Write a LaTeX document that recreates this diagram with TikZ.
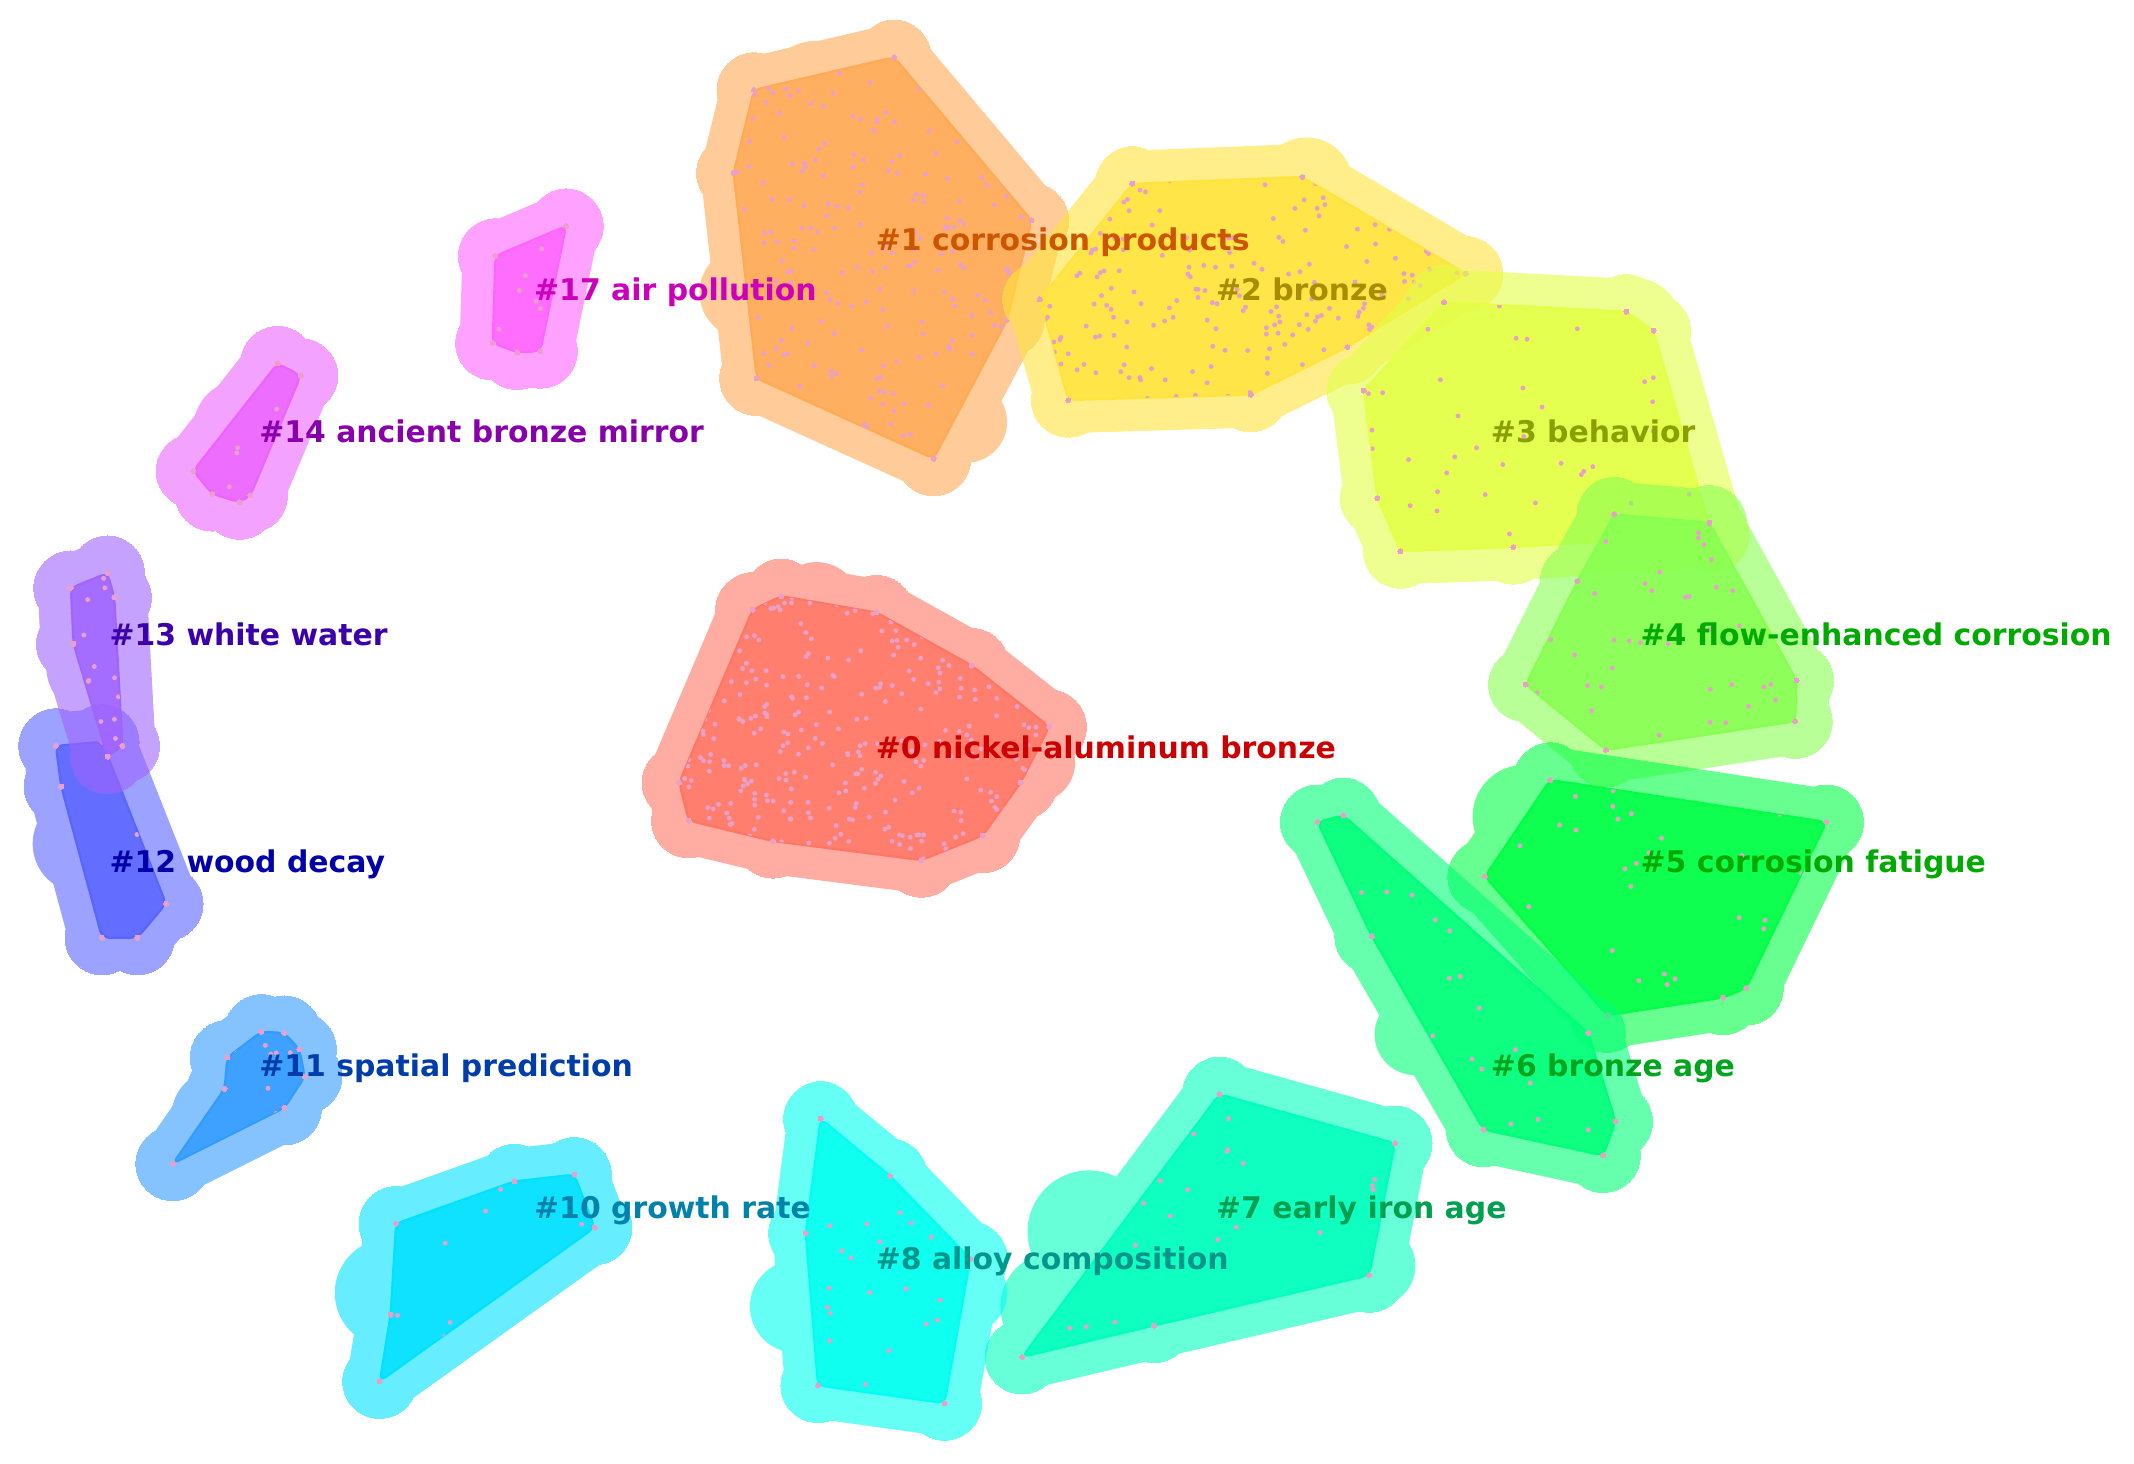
\documentclass[tikz,border=0pt]{standalone}
\usepackage{fontspec}
\setmainfont{DejaVu Sans}
\begin{document}
\begin{tikzpicture}[x=0.01361cm,y=-0.01361cm,
  lab/.style={anchor=base west, inner sep=0pt, font=\bfseries\fontsize{8.5}{10}\selectfont},
  dotc/.style={fill=dotcol}]
\definecolor{dotcol}{RGB}{232,160,200}
\definecolor{c0}{RGB}{255,118,100}\definecolor{t0}{RGB}{204,0,0}
\definecolor{c1}{RGB}{255,170,85}\definecolor{t1}{RGB}{204,85,0}
\definecolor{c2}{RGB}{255,228,60}\definecolor{t2}{RGB}{170,140,0}
\definecolor{c3}{RGB}{228,255,70}\definecolor{t3}{RGB}{136,160,0}
\definecolor{c4}{RGB}{135,255,80}\definecolor{t4}{RGB}{0,170,0}
\definecolor{c5}{RGB}{0,255,70}\definecolor{t5}{RGB}{0,170,0}
\definecolor{c6}{RGB}{0,255,120}\definecolor{t6}{RGB}{0,165,30}
\definecolor{c7}{RGB}{0,255,190}\definecolor{t7}{RGB}{0,160,80}
\definecolor{c8}{RGB}{0,255,240}\definecolor{t8}{RGB}{0,150,140}
\definecolor{c10}{RGB}{0,225,255}\definecolor{t10}{RGB}{0,130,170}
\definecolor{c11}{RGB}{50,155,255}\definecolor{t11}{RGB}{0,60,170}
\definecolor{c12}{RGB}{90,100,255}\definecolor{t12}{RGB}{0,0,170}
\definecolor{c13}{RGB}{160,100,255}\definecolor{t13}{RGB}{60,0,170}
\definecolor{c14}{RGB}{235,100,255}\definecolor{t14}{RGB}{136,0,170}
\definecolor{c17}{RGB}{255,100,255}\definecolor{t17}{RGB}{204,0,187}
% #1 colour, #2 hull vertices, #3 number of random dots, #4-#7 dot box, #8 extra halo blobs
\newcommand\hull[8]{%
  \begin{scope}[transparency group, opacity=0.6]
    \filldraw[fill=#1, draw=#1, line width=6.6mm, line join=round] plot coordinates {#2} -- cycle;
    \path plot[only marks, mark=*, mark size=3.7mm, mark options={draw=#1, fill=#1, line width=0pt}] coordinates {#2};
    \path[fill=#1] #8;
  \end{scope}
  \filldraw[fill=#1, fill opacity=0.85, draw=#1, line width=0.6pt, line join=round, rounded corners=2pt] plot coordinates {#2} -- cycle;
  \begin{scope}
    \clip plot coordinates {#2} -- cycle;
    \foreach \k in {1,...,#3}{%
      \pgfmathsetmacro\px{#4+rnd*(#5-#4)}%
      \pgfmathsetmacro\py{#6+rnd*(#7-#6)}%
      \fill[dotc] (\px,\py) circle (1.8);
    }
  \end{scope}
  \path plot[only marks, mark=*, mark size=0.25mm, mark options={draw=dotcol, fill=dotcol, line width=0pt}] coordinates {#2};
}
\pgfmathsetseed{4242}
\fill[white] (0,0) rectangle (1568,1075);
\useasboundingbox (0,0) rectangle (1568,1075);

\hull{c0}{(574,438) (644,450) (714,489) (771,534) (750,575) (722,614) (677,632) (568,618) (506,603) (499,575) (553,448)}{380}{499}{771}{438}{632}{(600,445) circle (32) (760,560) circle (30)}
\hull{c1}{(554,66) (657,42) (758,162) (740,235) (686,337) (556,278) (539,127)}{260}{539}{758}{42}{337}{(548,215) circle (34) (600,70) circle (40) (710,310) circle (30)}
\hull{c2}{(832,135) (957,130) (1077,201) (990,255) (919,290) (785,294) (764,220)}{240}{764}{1077}{130}{294}{(960,135) circle (34) (800,270) circle (34)}
\hull{c3}{(1061,222) (1195,229) (1215,243) (1258,393) (1112,402) (1029,405) (1012,366) (1002,287)}{45}{1002}{1258}{222}{405}{(1200,240) circle (36) (1020,320) circle (38)}
\hull{c4}{(1186,378) (1256,384) (1320,500) (1319,530) (1180,551) (1121,503) (1159,427)}{55}{1121}{1320}{378}{551}{(1150,480) circle (40)}
\hull{c5}{(1139,573) (1342,604) (1283,726) (1266,733) (1181,746) (1091,644)}{35}{1091}{1342}{573}{746}{(1120,600) circle (38)}
\hull{c6}{(968,604) (987,599) (1167,759) (1187,824) (1178,849) (1090,830) (1008,688)}{60}{968}{1187}{599}{849}{(1040,760) circle (30)}
\hull{c7}{(896,804) (1025,840) (1006,937) (848,974) (751,997)}{40}{751}{1025}{804}{997}{(800,905) circle (45) (775,960) circle (40) (1010,930) circle (30)}
\hull{c8}{(603,822) (654,864) (713,925) (694,1031) (601,1018) (592,906)}{30}{592}{713}{822}{1031}{(585,960) circle (34) (710,950) circle (30)}
\hull{c10}{(291,899) (378,868) (422,863) (437,902) (279,1015) (287,966)}{16}{279}{437}{863}{1015}{(286,950) circle (40)}
\hull{c11}{(192,758) (209,759) (220,771) (224,791) (209,814) (127,855) (165,800) (167,777)}{16}{127}{224}{758}{855}{(160,820) circle (34)}
\hull{c12}{(41,548) (75,545) (122,664) (101,689) (75,689) (45,578)}{14}{41}{122}{545}{689}{(60,620) circle (36)}
\hull{c13}{(52,432) (79,421) (84,439) (90,548) (79,556) (54,473)}{16}{52}{90}{421}{556}{(70,490) circle (36)}
\hull{c14}{(204,267) (221,276) (184,364) (176,369) (156,363) (142,346)}{10}{142}{221}{267}{369}{(178,315) circle (36)}
\hull{c17}{(364,188) (416,166) (397,258) (380,259) (362,252)}{8}{362}{416}{166}{259}{(385,215) circle (40)}

\node[lab, text=t0] (l0) at (643,557) {\#0 nickel-aluminum bronze};
\node[lab, text=t1] (l1) at (643,184) {\#1 corrosion products};
\node[lab, text=t2] (l2) at (893,221) {\#2 bronze};
\node[lab, text=t3] (l3) at (1095,325) {\#3 behavior};
\node[lab, text=t4] (l4) at (1205,474) {\#4 flow-enhanced corrosion};
\node[lab, text=t5] (l5) at (1205,641) {\#5 corrosion fatigue};
\node[lab, text=t6] (l6) at (1095,791) {\#6 bronze age};
\node[lab, text=t7] (l7) at (893,895) {\#7 early iron age};
\node[lab, text=t8] (l8) at (643,933) {\#8 alloy composition};
\node[lab, text=t10] (l10) at (392,895) {\#10 growth rate};
\node[lab, text=t11] (l11) at (190,791) {\#11 spatial prediction};
\node[lab, text=t12] (l12) at (80,641) {\#12 wood decay};
\node[lab, text=t13] (l13) at (80,474) {\#13 white water};
\node[lab, text=t14] (l14) at (190,325) {\#14 ancient bronze mirror};
\node[lab, text=t17] (l17) at (392,221) {\#17 air pollution};
\end{tikzpicture}
\end{document}
